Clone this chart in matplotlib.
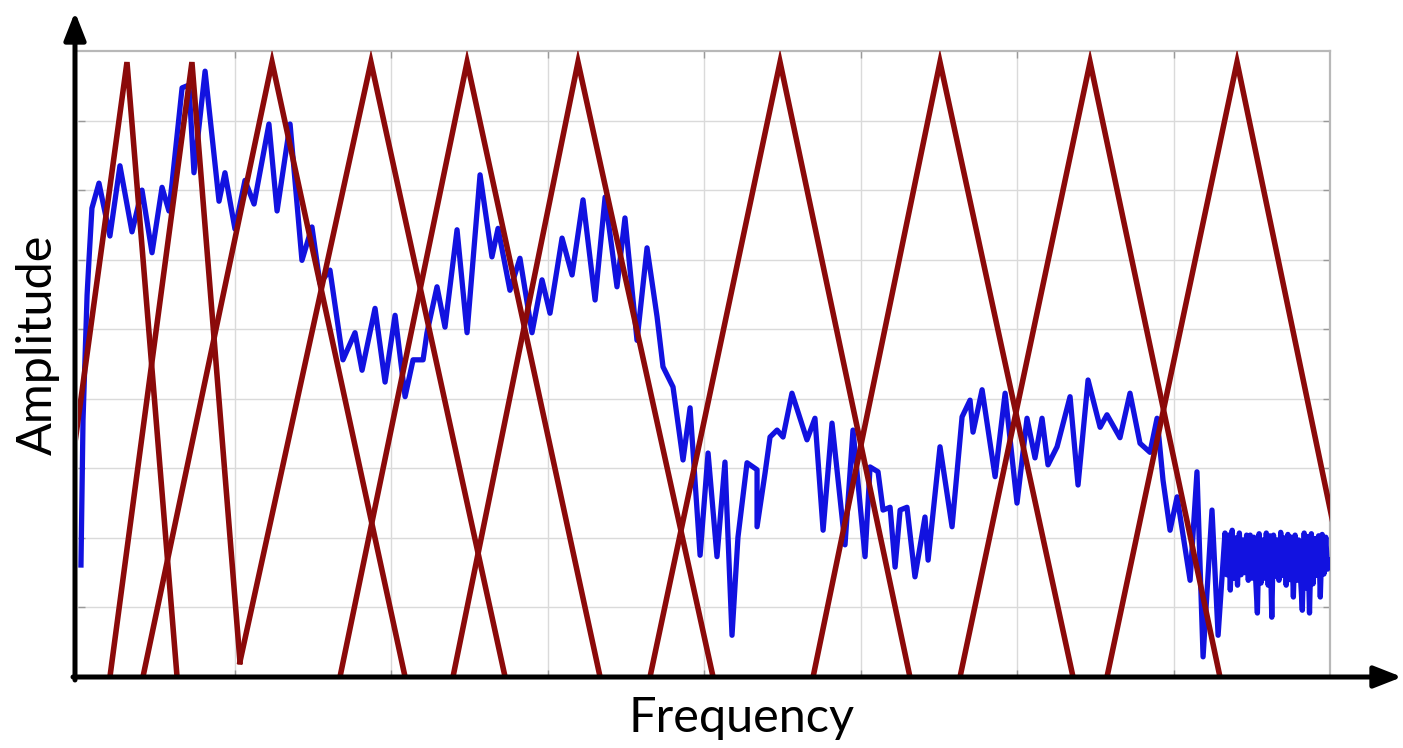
import matplotlib.pyplot as plt
from matplotlib.patches import FancyArrowPatch


# spectrum trace, frequency in Hz and amplitude in arbitrary units (0-90)
SPEC_FREQ = [
    19, 32, 58, 70, 89, 134, 204, 268, 345, 409, 473, 537, 581, 601, 665, 709,
    741, 812, 901, 939, 1003, 1067, 1125, 1220, 1272, 1355, 1431, 1495, 1546,
    1610, 1693, 1770, 1815, 1898, 1962, 2026, 2090, 2141, 2205, 2230, 2294,
    2345, 2422, 2486, 2569, 2645, 2684, 2760, 2824, 2901, 2965, 3016, 3093,
    3157, 3227, 3304, 3368, 3444, 3495, 3572, 3636, 3700, 3738, 3802, 3866,
    3911, 3975, 4026, 4083, 4134, 4179, 4217, 4275, 4339, 4339, 4390, 4422,
    4467, 4505, 4562, 4658, 4709, 4761, 4818, 4901, 4952, 5029, 5061, 5112,
    5144, 5189, 5221, 5253, 5297, 5348, 5412, 5432, 5508, 5585, 5649, 5700,
    5719, 5777, 5860, 5924, 6000, 6064, 6115, 6160, 6198, 6256, 6339, 6390,
    6454, 6531, 6575, 6658, 6722, 6786, 6850, 6895, 6933, 6978, 7023, 7106,
    7150, 7189, 7246, 7285, 7329,
    # dense high-frequency noise band
    7340, 7352, 7363, 7375, 7386, 7398, 7409, 7421, 7432, 7444,
    7455, 7467, 7478, 7490, 7501, 7513, 7524, 7536, 7547, 7559,
    7570, 7582, 7593, 7605, 7616, 7628, 7639, 7651, 7662, 7674,
    7685, 7697, 7708, 7720, 7731, 7743, 7754, 7766, 7777, 7789,
    7800, 7812, 7823, 7835, 7846, 7858, 7869, 7881, 7892, 7904,
    7915, 7927, 7938, 7950, 7961, 7973, 7984, 8000,
]
SPEC_AMP = [
    16.1, 36.9, 54.9, 59.9, 67.4, 71.0, 63.4, 73.5, 64.0, 70.0, 61.0, 70.4,
    67.0, 71.0, 84.7, 85.1, 72.5, 87.1, 68.4, 72.5, 64.4, 71.4, 68.0, 79.5,
    67.0, 79.5, 59.9, 64.7, 56.6, 58.5, 45.6, 49.5, 44.1, 53.0, 42.4, 52.0,
    40.3, 45.6, 45.6, 49.5, 56.1, 50.3, 64.3, 49.5, 72.2, 60.4, 64.5, 55.6,
    60.2, 49.5, 57.1, 52.3, 63.1, 57.8, 68.6, 54.2, 69.0, 56.1, 66.0, 48.4,
    61.7, 51.8, 44.6, 41.7, 31.2, 38.7, 17.5, 32.2, 17.3, 30.9, 6.0, 20.1,
    30.8, 29.8, 21.6, 29.3, 34.5, 35.5, 34.5, 40.8, 34.1, 37.2, 21.1, 36.5,
    19.0, 35.5, 17.3, 30.2, 29.5, 24.0, 24.4, 15.8, 24.0, 24.4, 14.4, 23.0,
    16.8, 33.1, 21.6, 37.4, 39.8, 35.2, 41.3, 28.8, 40.8, 25.0, 37.2, 31.5,
    37.2, 30.5, 33.1, 40.3, 27.6, 42.7, 35.9, 37.7, 34.4, 40.8, 33.6, 32.3,
    37.2, 28.3, 21.1, 25.9, 13.9, 29.5, 2.9, 24.0, 6.0, 20.7,
    14.7, 20.4, 12.5, 21.1, 14.2, 20.0, 13.2, 20.7, 14.7, 19.7,
    15.0, 20.4, 13.9, 20.4, 14.2, 20.1, 14.5, 9.2, 20.6, 13.5,
    19.7, 14.2, 20.7, 13.2, 20.3, 8.6, 20.4, 14.5, 19.7, 13.9,
    20.8, 14.6, 20.0, 13.2, 20.5, 14.0, 20.1, 11.5, 20.4, 13.9,
    19.7, 14.2, 9.6, 20.7, 12.8, 20.2, 9.2, 20.6, 13.4, 19.9,
    14.6, 20.3, 11.5, 20.5, 14.8, 20.1, 15.5, 16.8,
]

# triangular filters: (left foot, centre, right foot) in Hz
FILTER_LEFT = [-224, 204, 415, 1035, 1674, 2396, 3655, 4697, 5636, 6575]
FILTER_CENTER = [313, 728, 1240, 1872, 2486, 3195, 4486, 5508, 6467, 7406]
FILTER_RIGHT = [633, 1035, 2090, 2729, 3336, 4058, 5316, 6358, 7297, 8224]
# a couple of feet sit slightly above zero
FILTER_LEFT_AMP = [0, 0, 0, 2.2, 0, 0, 0, 0, 0, 0]
FILTER_RIGHT_AMP = [0, 2.2, 0, 0, 0, 0, 0, 0, 0, 0]
FILTER_PEAK = 88.4

F_MAX = 8000
A_MAX = 90

W, H = 1403, 748


def main():
    fig = plt.figure(figsize=(W / 100, H / 100), dpi=100)
    fig.patch.set_facecolor("white")
    ax = fig.add_axes([78 / W, 71 / H, 1252 / W, 626 / H])

    ax.set_xlim(0, F_MAX)
    ax.set_ylim(0, A_MAX)
    ax.set_xticks(range(1000, F_MAX, 1000))
    ax.set_yticks(range(10, A_MAX, 10))
    ax.grid(True, color="#dadada", linewidth=1.0)
    ax.set_axisbelow(True)
    ax.tick_params(direction="in", length=5, width=1, colors="#999999",
                   top=True, right=True,
                   labelleft=False, labelbottom=False)
    for side in ("top", "right"):
        ax.spines[side].set_color("#b8b8b8")
        ax.spines[side].set_linewidth(1.6)
    for side in ("left", "bottom"):
        ax.spines[side].set_visible(False)

    ax.plot(SPEC_FREQ, SPEC_AMP, color="#1212e0", linewidth=3.8,
            solid_joinstyle="round", zorder=3)

    for lo, c, hi, alo, ahi in zip(FILTER_LEFT, FILTER_CENTER, FILTER_RIGHT,
                                   FILTER_LEFT_AMP, FILTER_RIGHT_AMP):
        ax.plot([lo, c, hi], [alo, FILTER_PEAK, ahi], color="#8b0a0a",
                linewidth=4.0, solid_joinstyle="miter", zorder=4)

    # black axes with arrow heads, in figure pixels
    arrow_kw = dict(arrowstyle="-|>,head_length=1.4,head_width=0.55",
                    color="black", linewidth=3.6, mutation_scale=12,
                    transform=None, shrinkA=0, shrinkB=0, zorder=10)
    fig.add_artist(FancyArrowPatch((75, H - 680), (75, H - 12), **arrow_kw))
    fig.add_artist(FancyArrowPatch((73, H - 677), (1402, H - 677), **arrow_kw))

    font = ["Lato", "DejaVu Sans"]
    fig.text(38 / W, 1 - 345 / H, "Amplitude", rotation=90, fontsize=35,
             family=font, ha="center", va="center")
    fig.text(742 / W, 1 - 718 / H, "Frequency", fontsize=35,
             family=font, ha="center", va="center")

    fig.savefig("out.png", dpi=100, facecolor="white")
    plt.close(fig)


if __name__ == "__main__":
    main()
